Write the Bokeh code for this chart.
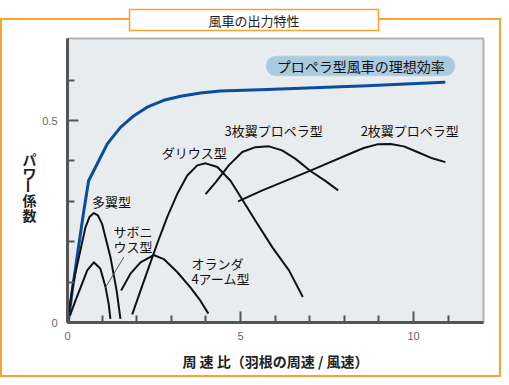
from bokeh.plotting import figure
from bokeh.models import Range1d, FixedTicker, Label, BoxAnnotation, LinearAxis
from bokeh.embed import file_html
from bokeh.resources import INLINE

JP = "Noto Sans CJK JP"

# ---- data ----
ideal_x = [0.02, 0.14, 0.29, 0.46, 0.61, 0.86, 1.15, 1.53, 1.92, 2.30, 2.78, 3.27, 3.84, 4.42, 5.77, 8.66, 10.88]
ideal_y = [0.0, 0.08, 0.17, 0.27, 0.351, 0.393, 0.442, 0.483, 0.512, 0.533, 0.550, 0.560, 0.568, 0.573, 0.577, 0.586, 0.595]

multi_x = [0.04, 0.16, 0.33, 0.52, 0.64, 0.76, 0.88, 1.00, 1.24, 1.42, 1.53]
multi_y = [0.026, 0.096, 0.162, 0.236, 0.262, 0.271, 0.265, 0.244, 0.162, 0.079, 0.009]

savonius_x = [0.07, 0.23, 0.38, 0.57, 0.76, 0.95, 1.10, 1.19, 1.24]
savonius_y = [0.017, 0.054, 0.087, 0.129, 0.149, 0.133, 0.087, 0.046, 0.009]

dutch_x = [1.55, 1.82, 2.11, 2.49, 2.78, 3.17, 3.55, 3.84, 4.07]
dutch_y = [0.079, 0.121, 0.149, 0.167, 0.157, 0.125, 0.087, 0.054, 0.022]

darrieus_x = [1.87, 2.11, 2.35, 2.59, 2.88, 3.17, 3.46, 3.75, 3.99, 4.33, 4.71, 4.95, 5.43, 5.92, 6.40, 6.80]
darrieus_y = [0.020, 0.079, 0.137, 0.195, 0.261, 0.318, 0.364, 0.389, 0.394, 0.385, 0.351, 0.318, 0.252, 0.186, 0.129, 0.063]

prop3_x = [3.99, 4.28, 4.66, 5.05, 5.43, 5.82, 6.20, 6.59, 7.02, 7.46, 7.82]
prop3_y = [0.318, 0.347, 0.389, 0.422, 0.434, 0.436, 0.426, 0.405, 0.375, 0.350, 0.327]

prop2_x = [4.93, 5.63, 7.02, 8.28, 8.56, 8.95, 9.34, 9.72, 10.11, 10.49, 10.92]
prop2_y = [0.300, 0.327, 0.376, 0.422, 0.432, 0.441, 0.442, 0.436, 0.422, 0.408, 0.397]

leader_x = [1.63, 1.10]
leader_y = [0.162, 0.087]

x_major = [0, 5, 10]
x_minor = [1, 2, 3, 4, 6, 7, 8, 9, 11]
y_major = [0, 0.5]
y_minor = [0.1, 0.2, 0.3, 0.4, 0.6]
y_tick_labels = {0: "0", 0.5: "0.5"}

title_text = "風車の出力特性"
ideal_label = "プロペラ型風車の理想効率"
y_label_chars = {0.404: "パ", 0.371: "ワ", 0.302: "係", 0.267: "数"}
y_label_dash = {0.337: "ー"}
x_label = "周 速 比（羽根の周速 / 風速）"

ORANGE = "#f7a42a"
AX = "#555555"
TOP_LINE = 18  # px from the top: orange frame line through the title box

# ---- figure ----
p = figure(width=501, height=377, x_range=Range1d(0, 12.02), y_range=Range1d(0, 0.703),
           output_backend="svg", toolbar_location=None,
           min_border_left=67, min_border_right=18, min_border_top=38, min_border_bottom=55)
p.background_fill_color = "#e9ecee"
p.border_fill_alpha = 0
p.grid.visible = False
p.outline_line_color = "#b2b2b2"
p.outline_line_width = 2

g = "linear-gradient(%s,%s)" % (ORANGE, ORANGE)
p.styles = {"background": ", ".join([
    g + " 0 %dpx / 100%% 2px no-repeat" % TOP_LINE,
    g + " 0 %dpx / 2px 100%% no-repeat" % TOP_LINE,
    g + " 100%% %dpx / 2px 100%% no-repeat" % TOP_LINE,
    g + " 0 100% / 100% 2px no-repeat",
    "#ffffff"])}

# title box
p.title.text = title_text
p.title.align = "left"
p.title.offset = 62
p.title.vertical_align = "top"
p.title.standoff = 12
p.title.text_font = JP
p.title.text_font_size = "13px"
p.title.text_font_style = "normal"
p.title.text_color = "#222222"
p.title.background_fill_color = "white"
p.title.border_line_color = ORANGE
p.title.border_line_width = 1.5
p.title.padding = (79, 1)

for ax in (p.xaxis[0], p.yaxis[0]):
    ax.axis_line_color = AX
    ax.axis_line_width = 3
    ax.major_tick_line_color = AX
    ax.minor_tick_line_color = AX
    ax.major_tick_line_width = 2
    ax.minor_tick_line_width = 2
    ax.major_tick_in = 11
    ax.major_tick_out = 0
    ax.minor_tick_in = 7
    ax.minor_tick_out = 0
    ax.major_label_text_color = "#666666"
    ax.major_label_text_font = "Liberation Sans"
    ax.major_label_text_font_size = "11px"

p.xaxis.ticker = FixedTicker(ticks=x_major, minor_ticks=x_minor)
p.yaxis.ticker = FixedTicker(ticks=y_major, minor_ticks=y_minor)
p.yaxis.major_label_overrides = y_tick_labels
p.xaxis.major_label_standoff = 9
p.yaxis.major_label_standoff = 10

p.xaxis.axis_label = x_label
p.xaxis.axis_label_text_font = JP
p.xaxis.axis_label_text_font_style = "bold"
p.xaxis.axis_label_text_font_size = "14px"
p.xaxis.axis_label_text_color = "#222222"
p.xaxis.axis_label_standoff = 8

# vertical (stacked) y label, drawn as labels of two invisible axes
def label_axis(mapping, orientation, standoff):
    return LinearAxis(ticker=FixedTicker(ticks=list(mapping.keys()), minor_ticks=[]),
                      major_label_overrides=mapping,
                      major_label_orientation=orientation,
                      axis_line_alpha=0, major_tick_in=0, major_tick_out=0,
                      minor_tick_in=0, minor_tick_out=0, major_label_standoff=standoff,
                      major_label_text_font=JP, major_label_text_font_style="bold",
                      major_label_text_font_size="14px", major_label_text_color="#222222")

p.add_layout(label_axis(y_label_chars, "horizontal", 3), "left")
p.add_layout(label_axis(y_label_dash, "vertical", -18), "left")

# ---- curves ----
p.line(ideal_x, ideal_y, line_color="#0a4d9f", line_width=3, line_join="round", line_cap="round")
for xs, ys in [(multi_x, multi_y), (savonius_x, savonius_y), (dutch_x, dutch_y),
               (darrieus_x, darrieus_y), (prop3_x, prop3_y), (prop2_x, prop2_y)]:
    p.line(xs, ys, line_color="#111111", line_width=2, line_join="round")
p.line(leader_x, leader_y, line_color="#555555", line_width=1)

# pill for ideal label
p.add_layout(BoxAnnotation(left=5.72, right=11.21, top=0.661, bottom=0.609,
                           fill_color="#a9cadf", fill_alpha=1, line_color="white", line_width=2,
                           border_radius=10))
p.add_layout(Label(x=8.47, y=0.635, text=ideal_label, text_font=JP, text_font_size="14px",
                   text_color="#111111", text_align="center", text_baseline="middle"))

# curve labels
def lab(x, y, t, align="left"):
    p.add_layout(Label(x=x, y=y, text=t, text_font=JP, text_font_size="13px", text_color="#111111",
                       text_align=align, text_baseline="middle"))

lab(1.27, 0.300, "多翼型", "center")
lab(1.33, 0.225, "サボニ")
lab(1.33, 0.188, "ウス型")
lab(3.58, 0.146, "オランダ")
lab(3.58, 0.109, "4アーム型")
lab(2.72, 0.421, "ダリウス型")
lab(4.54, 0.475, "3枚翼プロペラ型")
lab(8.47, 0.475, "2枚翼プロペラ型")

open("out.html", "w").write(file_html(p, INLINE))
